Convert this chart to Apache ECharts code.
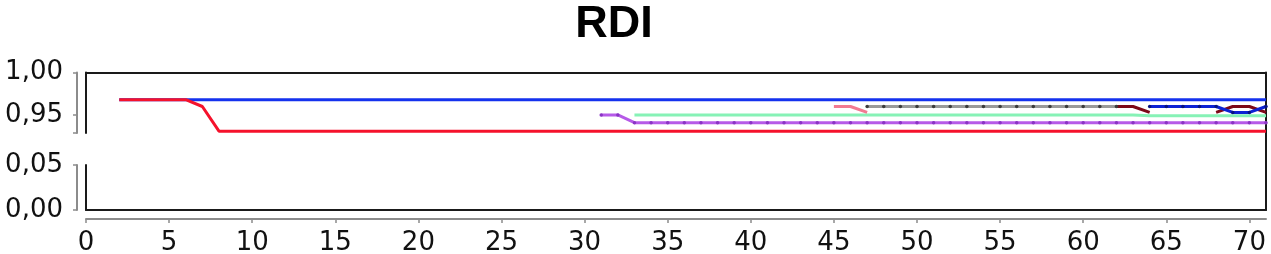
<!DOCTYPE html>
<html>
<head>
<meta charset="utf-8">
<script src="https://cdn.jsdelivr.net/npm/echarts@6/dist/echarts.min.js"></script>
<style>
  html, body { margin: 0; padding: 0; background: #fff; }
  #box1 { width: 1271px; height: 254px; }
</style>
</head>
<body>
<div id="box1"></div>
<script>
// values, one array per run, starting day given beside it
var blueStart = 2;
var blueVals = [
    0.968, 0.968, 0.968, 0.968, 0.968, 0.968, 0.968, 0.968, 0.968, 0.968,
    0.968, 0.968, 0.968, 0.968, 0.968, 0.968, 0.968, 0.968, 0.968, 0.968,
    0.968, 0.968, 0.968, 0.968, 0.968, 0.968, 0.968, 0.968, 0.968, 0.968,
    0.968, 0.968, 0.968, 0.968, 0.968, 0.968, 0.968, 0.968, 0.968, 0.968,
    0.968, 0.968, 0.968, 0.968, 0.968, 0.968, 0.968, 0.968, 0.968, 0.968,
    0.968, 0.968, 0.968, 0.968, 0.968, 0.968, 0.968, 0.968, 0.968, 0.968,
    0.968, 0.968, 0.968, 0.968, 0.968, 0.968, 0.968, 0.968, 0.968, 0.968
];
var redStart = 2;
var redVals = [
    0.968, 0.968, 0.968, 0.968, 0.968, 0.960, 0.931, 0.931, 0.931, 0.931,
    0.931, 0.931, 0.931, 0.931, 0.931, 0.931, 0.931, 0.931, 0.931, 0.931,
    0.931, 0.931, 0.931, 0.931, 0.931, 0.931, 0.931, 0.931, 0.931, 0.931,
    0.931, 0.931, 0.931, 0.931, 0.931, 0.931, 0.931, 0.931, 0.931, 0.931,
    0.931, 0.931, 0.931, 0.931, 0.931, 0.931, 0.931, 0.931, 0.931, 0.931,
    0.931, 0.931, 0.931, 0.931, 0.931, 0.931, 0.931, 0.931, 0.931, 0.931,
    0.931, 0.931, 0.931, 0.931, 0.931, 0.931, 0.931, 0.931, 0.931, 0.931
];
var purpleStart = 31;
var purpleVals = [
    0.950, 0.950, 0.941, 0.941, 0.941, 0.941, 0.941, 0.941, 0.941, 0.941,
    0.941, 0.941, 0.941, 0.941, 0.941, 0.941, 0.941, 0.941, 0.941, 0.941,
    0.941, 0.941, 0.941, 0.941, 0.941, 0.941, 0.941, 0.941, 0.941, 0.941,
    0.941, 0.941, 0.941, 0.941, 0.941, 0.941, 0.941, 0.941, 0.941, 0.941,
    0.941
];
var greenStart = 33;
var greenVals = [
    0.950, 0.950, 0.950, 0.950, 0.950, 0.950, 0.950, 0.950, 0.950, 0.950,
    0.950, 0.950, 0.950, 0.950, 0.950, 0.950, 0.950, 0.950, 0.950, 0.950,
    0.950, 0.950, 0.950, 0.950, 0.950, 0.950, 0.950, 0.950, 0.950, 0.950,
    0.950, 0.949, 0.949, 0.949, 0.949, 0.949, 0.949, 0.949, 0.949
];
var pinkStart = 45;
var pinkVals = [0.960, 0.960, 0.953];
var grayStart = 47;
var grayVals = [
    0.960, 0.960, 0.960, 0.960, 0.960, 0.960, 0.960, 0.960,
    0.960, 0.960, 0.960, 0.960, 0.960, 0.960, 0.960, 0.960
];
var darkRedStart = 62;
var darkRedVals = [0.960, 0.960, 0.953, null, null, null, 0.953, 0.960, 0.960, 0.953];
var darkBlueStart = 64;
var darkBlueVals = [0.960, 0.960, 0.960, 0.960, 0.960, 0.953, 0.953, 0.960];

var yTopTicks = [0.95, 1.00];
var yLowTicks = [0.00, 0.05];
var upperMin = 0.9288;

function pts(start, vals){
    return vals.map(function(v, i){ return [start + i, v]; });
}
function comma(v){
    return v.toFixed(2).replace('.', ',');
}

var black = '#1a1a1a';
var gray = '#8c8c8c';
var fontFam = 'DejaVu Sans';

function line(name, start, vals, color, dots, dotColor){
    return {
        name: name,
        type: 'line',
        xAxisIndex: 0,
        yAxisIndex: 0,
        data: pts(start, vals),
        showSymbol: !!dots,
        symbol: 'circle',
        symbolSize: 3.5,
        connectNulls: false,
        animation: false,
        lineStyle: { color: color, width: 3 },
        itemStyle: { color: dotColor || color }
    };
}

var myChart = echarts.init(document.getElementById('box1'));

var option = {
    animation: false,
    title: {
        text: 'RDI',
        left: 609,
        top: -3,
        textAlign: 'center',
        textStyle: { fontFamily: 'Liberation Sans', fontWeight: 'bold', fontSize: 45, color: '#000' }
    },
    grid: [
        // upper part of the broken axis
        { left: 86, right: 5, top: 72.5, height: 60.5, outerBoundsMode: 'none' },
        // lower part
        { left: 86, right: 5, top: 165, height: 45, outerBoundsMode: 'none' },
        // full height, for the right border and the day axis
        { left: 86, right: 5, top: 72.5, height: 137.5, outerBoundsMode: 'none' }
    ],
    xAxis: [
        {
            gridIndex: 0, type: 'value', min: 0, max: 71, position: 'top',
            axisLine: { show: true, onZero: false, lineStyle: { color: black, width: 2 } },
            axisTick: { show: false }, axisLabel: { show: false }, splitLine: { show: false }
        },
        {
            gridIndex: 1, type: 'value', min: 0, max: 71, position: 'bottom',
            axisLine: { show: true, onZero: false, lineStyle: { color: black, width: 2 } },
            axisTick: { show: false }, axisLabel: { show: false }, splitLine: { show: false }
        },
        {
            gridIndex: 2, type: 'value', min: 0, max: 71, interval: 5, position: 'bottom', offset: 9,
            axisLine: { show: true, onZero: false, lineStyle: { color: gray, width: 2 } },
            axisTick: { show: true, length: 4, lineStyle: { color: gray, width: 1.5 } },
            axisLabel: { margin: 11, fontFamily: fontFam, fontSize: 26, color: '#111' },
            splitLine: { show: false }
        }
    ],
    yAxis: [
        {
            gridIndex: 0, type: 'value', min: upperMin, max: 1.0, position: 'left',
            axisLine: { show: true, onZero: false, lineStyle: { color: black, width: 2 } },
            axisTick: { show: false }, axisLabel: { show: false }, splitLine: { show: false }
        },
        {
            gridIndex: 0, type: 'value', min: upperMin, max: 1.0, position: 'left', offset: 9,
            axisLine: { show: true, onZero: false, lineStyle: { color: gray, width: 2 } },
            axisTick: { show: true, length: 4, customValues: [upperMin].concat(yTopTicks), lineStyle: { color: gray, width: 1.5 } },
            axisLabel: { customValues: yTopTicks, margin: 14, fontFamily: fontFam, fontSize: 26, color: '#111', formatter: comma },
            splitLine: { show: false }
        },
        {
            gridIndex: 1, type: 'value', min: 0, max: 0.05, position: 'left',
            axisLine: { show: true, onZero: false, lineStyle: { color: black, width: 2 } },
            axisTick: { show: false }, axisLabel: { show: false }, splitLine: { show: false }
        },
        {
            gridIndex: 1, type: 'value', min: 0, max: 0.05, position: 'left', offset: 9,
            axisLine: { show: true, onZero: false, lineStyle: { color: gray, width: 2 } },
            axisTick: { show: true, length: 4, customValues: yLowTicks, lineStyle: { color: gray, width: 1.5 } },
            axisLabel: { customValues: yLowTicks, margin: 14, fontFamily: fontFam, fontSize: 26, color: '#111', formatter: comma },
            splitLine: { show: false }
        },
        {
            gridIndex: 2, type: 'value', min: 0, max: 1, position: 'right',
            axisLine: { show: true, onZero: false, lineStyle: { color: black, width: 2 } },
            axisTick: { show: false }, axisLabel: { show: false }, splitLine: { show: false }
        }
    ],
    series: [
        line('blue', blueStart, blueVals, '#1432ee'),
        line('red', redStart, redVals, '#f5122c'),
        line('green', greenStart, greenVals, '#86f2b6'),
        line('purple', purpleStart, purpleVals, '#b65ae8', true, '#8a34c4'),
        line('pink', pinkStart, pinkVals, '#f27a92'),
        line('gray', grayStart, grayVals, '#9a9a9a', true, '#3c3c3c'),
        line('darkred', darkRedStart, darkRedVals, '#7c0818'),
        line('darkblue', darkBlueStart, darkBlueVals, '#0c22d4', true, '#061280')
    ]
};

myChart.setOption(option);
</script>
</body>
</html>
